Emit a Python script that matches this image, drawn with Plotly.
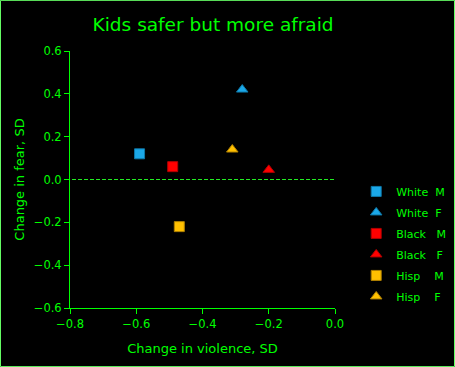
import plotly.graph_objects as go

GREEN = "#00FF00"
names = ["White\u00a0\u00a0M", "White\u00a0\u00a0F", "Black\u00a0\u00a0\u00a0M", "Black\u00a0\u00a0\u00a0F", "Hisp\u00a0\u00a0\u00a0\u00a0M", "Hisp\u00a0\u00a0\u00a0\u00a0F"]
violence = [-0.59, -0.28, -0.49, -0.20, -0.47, -0.31]
fear = [0.12, 0.42, 0.06, 0.045, -0.22, 0.14]
symbols = ["square", "triangle-up", "square", "triangle-up", "square", "triangle-up"]
colors = ["#1BA8E8", "#1BA8E8", "#FF0000", "#FF0000", "#FFC000", "#FFC000"]
edges = ["#0E78A8", "#0E78A8", "#B00000", "#B00000", "#B08000", "#B08000"]
x_ticks = [-0.8, -0.6, -0.4, -0.2, 0.0]
y_ticks = [-0.6, -0.4, -0.2, 0.0, 0.2, 0.4, 0.6]

fig = go.Figure()
for i, n in enumerate(names):
    fig.add_trace(go.Scatter(
        x=[violence[i]], y=[fear[i]], mode="markers", name=n, legendgroup=str(i),
        marker=dict(symbol=symbols[i], size=10, color=colors[i],
                    line=dict(color=edges[i], width=1)),
    ))

fig.add_shape(type="line", xref="paper", x0=-0.015, x1=1, yref="y", y0=0, y1=0,
              line=dict(color="#22EE22", width=1, dash="4px,2px"), layer="below")
fig.add_shape(type="rect", xref="paper", yref="paper",
              x0=-0.2623, x1=1.451, y0=-0.228, y1=1.197,
              line=dict(color="#66FF66", width=1))

fig.update_layout(
    width=455, height=367,
    paper_bgcolor="black", plot_bgcolor="black",
    margin=dict(l=70, r=120, t=51, b=59, autoexpand=False),
    font=dict(family="DejaVu Sans", color=GREEN, size=11),
    title=dict(text="Kids safer but more afraid", font=dict(size=18.5, color=GREEN),
               x=0.54, xref="paper", xanchor="center", y=0.932, yref="container", yanchor="middle"),
    xaxis=dict(range=[-0.8, 0.0], tickvals=x_ticks, tickformat=".1f", showgrid=False, zeroline=False,
               showline=True, linecolor=GREEN, linewidth=1, ticks="outside", ticklen=5, tickcolor=GREEN,
               tickfont=dict(size=11.5),
               title=dict(text="Change in violence, SD", font=dict(size=13), standoff=14)),
    yaxis=dict(range=[-0.6, 0.6], tickvals=y_ticks, tickformat=".1f", showgrid=False, zeroline=False,
               showline=True, linecolor=GREEN, linewidth=1, ticks="outside", ticklen=5, tickcolor=GREEN,
               tickfont=dict(size=11.5),
               title=dict(text="Change in fear, SD", font=dict(size=13), standoff=6)),
    legend=dict(x=1.080, y=0.510, xanchor="left", yanchor="top", tracegroupgap=2,
                bgcolor="rgba(0,0,0,0)", font=dict(size=11, color=GREEN)),
    showlegend=True,
)

fig.write_html("out.html", config={"displayModeBar": False},
               post_script="document.body.style.margin='0px';")
